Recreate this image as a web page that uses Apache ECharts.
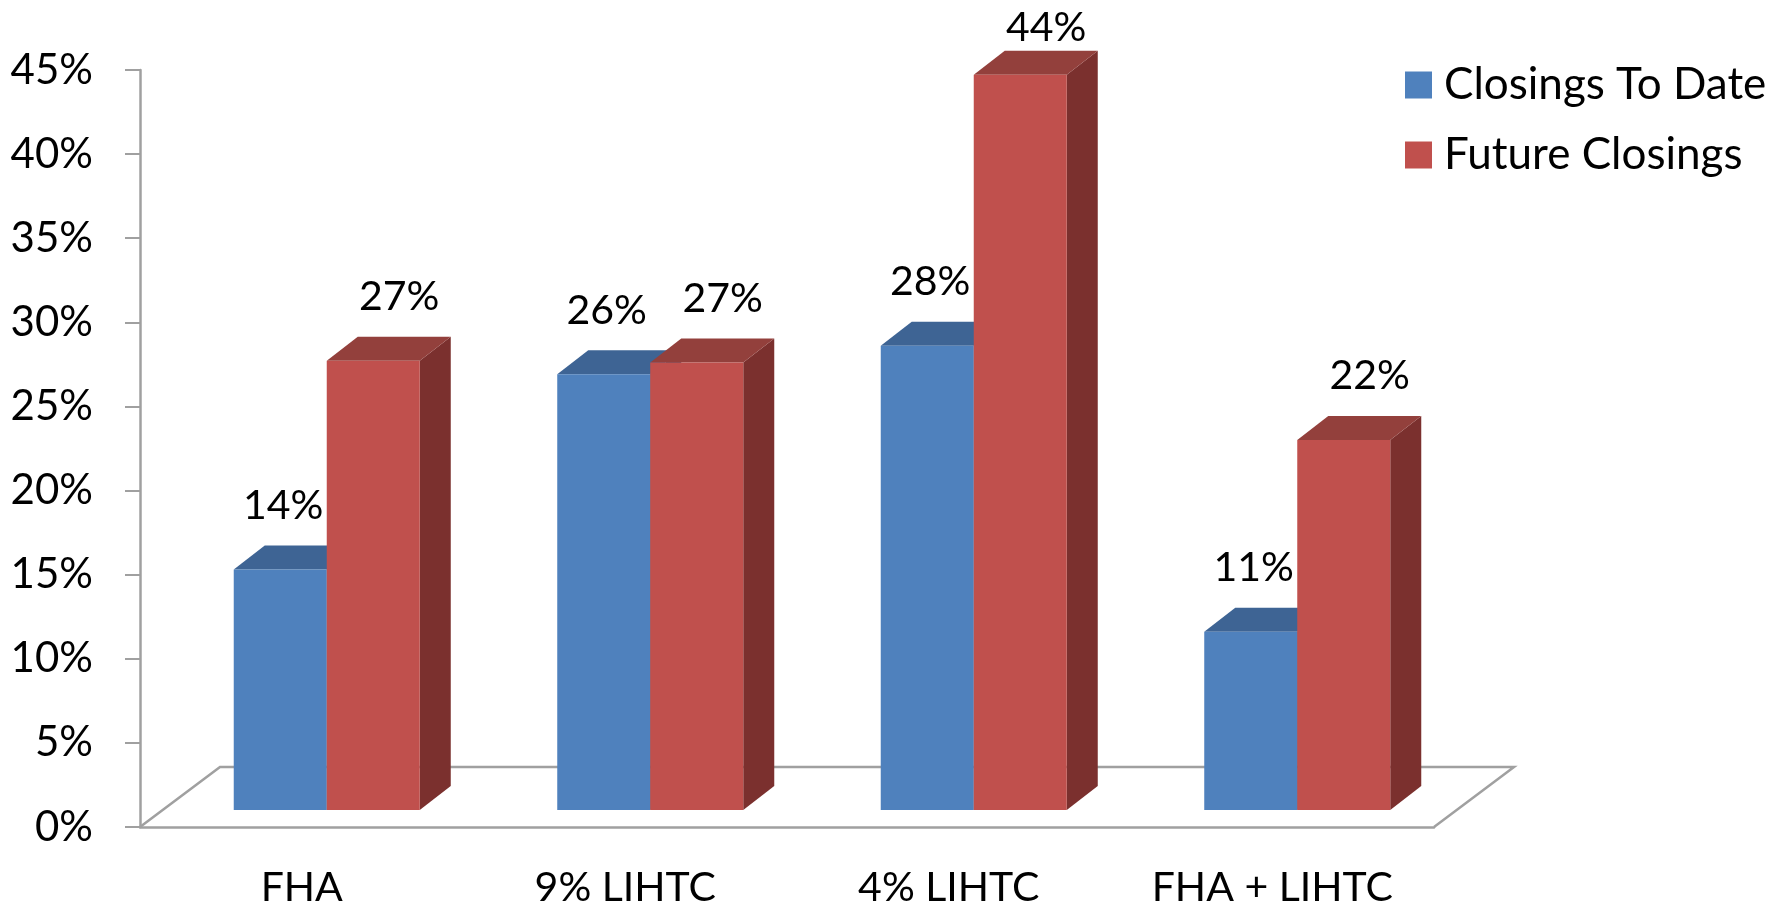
<!DOCTYPE html>
<html>
<head>
<meta charset="utf-8">
<script src="https://cdn.jsdelivr.net/npm/echarts@6/dist/echarts.min.js"></script>
<style>
html, body { margin: 0; padding: 0; background: #fff; }
#main { width: 1781px; height: 908px; }
</style>
</head>
<body>
<div id="main"></div>
<script>
// data
const categories = ['FHA', '9% LIHTC', '4% LIHTC', 'FHA + LIHTC'];
const closingsToDate = [14.3, 25.9, 27.6, 10.6];
const futureClosings = [26.7, 26.6, 43.7, 22.0];
const yTicks = [0, 5, 10, 15, 20, 25, 30, 35, 40, 45];

const FONT = 'Lato';
const AXIS_GREY = '#a0a0a0';

// fake 3D (oblique) offsets, in px
const FRONT = [25, -17];   // front face of bars vs. axis plane
const DEPTH = [31, -24];   // bar depth
const FLOOR = [80, -60];   // floor depth
const BAR_W = 0.2875;      // bar width as share of category band
const LABEL_MIN_Y = 28;    // keep data labels inside the canvas

let myChart = echarts.init(document.getElementById('main'));

function barRenderer(leftSide, colors, labelShift) {
    return function (params, api) {
        const idx = api.value(0);
        const val = api.value(1);
        const base = api.coord([idx, 0]);
        const top = api.coord([idx, val]);
        const w = api.size([1, 0])[0] * BAR_W;
        const x0 = base[0] + FRONT[0] - (leftSide ? w : 0);
        const x1 = x0 + w;
        const yb = base[1] + FRONT[1];
        const yt = top[1] + FRONT[1];
        const dx = DEPTH[0], dy = DEPTH[1];
        return {
            type: 'group',
            children: [
                { type: 'polygon', shape: { points: [[x1, yb], [x1 + dx, yb + dy], [x1 + dx, yt + dy], [x1, yt]] }, style: { fill: colors.side } },
                { type: 'polygon', shape: { points: [[x0, yt], [x1, yt], [x1 + dx, yt + dy], [x0 + dx, yt + dy]] }, style: { fill: colors.top } },
                { type: 'rect', shape: { x: x0, y: yt, width: w, height: yb - yt }, style: { fill: colors.front } },
                {
                    type: 'text',
                    x: (x0 + x1) / 2 + labelShift[0],
                    y: Math.max(yt + labelShift[1], LABEL_MIN_Y),
                    style: {
                        text: Math.round(val) + '%',
                        fill: '#000',
                        font: '41px ' + FONT,
                        align: 'center',
                        verticalAlign: 'middle'
                    }
                }
            ]
        };
    };
}

function floorRenderer(params, api) {
    const n = categories.length;
    const half = api.size([1, 0])[0] / 2;
    const l = api.coord([0, 0]);
    const r = api.coord([n - 1, 0]);
    const lx = l[0] - half, rx = r[0] + half, y = l[1];
    return {
        type: 'polyline',
        shape: { points: [[lx, y], [lx + FLOOR[0], y + FLOOR[1]], [rx + FLOOR[0], y + FLOOR[1]], [rx, y]] },
        style: { stroke: AXIS_GREY, lineWidth: 2.5, fill: null }
    };
}

myChart.setOption({
    animation: false,
    grid: { left: 140, right: 347, top: 70, bottom: 80 },
    legend: {
        orient: 'vertical',
        left: 1405,
        top: 63,
        padding: 0,
        itemWidth: 27,
        itemHeight: 27,
        itemGap: 26,
        icon: 'rect',
        data: ['Closings To Date', 'Future Closings'],
        textStyle: { fontFamily: FONT, fontSize: 44, color: '#000', padding: [0, 0, 0, 7] }
    },
    xAxis: {
        type: 'category',
        data: categories,
        axisLine: { lineStyle: { color: AXIS_GREY, width: 2.5 } },
        axisTick: { length: 13, lineStyle: { color: AXIS_GREY, width: 2 } },
        axisLabel: { fontFamily: FONT, fontSize: 41, color: '#000', margin: 40 }
    },
    yAxis: {
        type: 'value',
        min: yTicks[0],
        max: yTicks[yTicks.length - 1],
        interval: 5,
        splitLine: { show: false },
        axisLine: { show: true, lineStyle: { color: AXIS_GREY, width: 2.5 } },
        axisTick: { show: true, length: 15, lineStyle: { color: AXIS_GREY, width: 2 } },
        axisLabel: { fontFamily: FONT, fontSize: 42, color: '#000', margin: 47, formatter: '{value}%' }
    },
    series: [
        {
            type: 'custom',
            name: 'floor',
            z: 1,
            silent: true,
            renderItem: floorRenderer,
            data: [[0, 0]]
        },
        {
            type: 'custom',
            name: 'Closings To Date',
            z: 2,
            itemStyle: { color: '#4f81bd' },
            renderItem: barRenderer(true, { front: '#4f81bd', top: '#3e6494', side: '#33527a' }, [3, -64]),
            data: closingsToDate.map((v, i) => [i, v])
        },
        {
            type: 'custom',
            name: 'Future Closings',
            z: 3,
            itemStyle: { color: '#c0504d' },
            renderItem: barRenderer(false, { front: '#c0504d', top: '#93403c', side: '#7b302e' }, [26, -64]),
            data: futureClosings.map((v, i) => [i, v])
        }
    ]
});

window.addEventListener('resize', function () {
    myChart.resize();
});
</script>
</body>
</html>
